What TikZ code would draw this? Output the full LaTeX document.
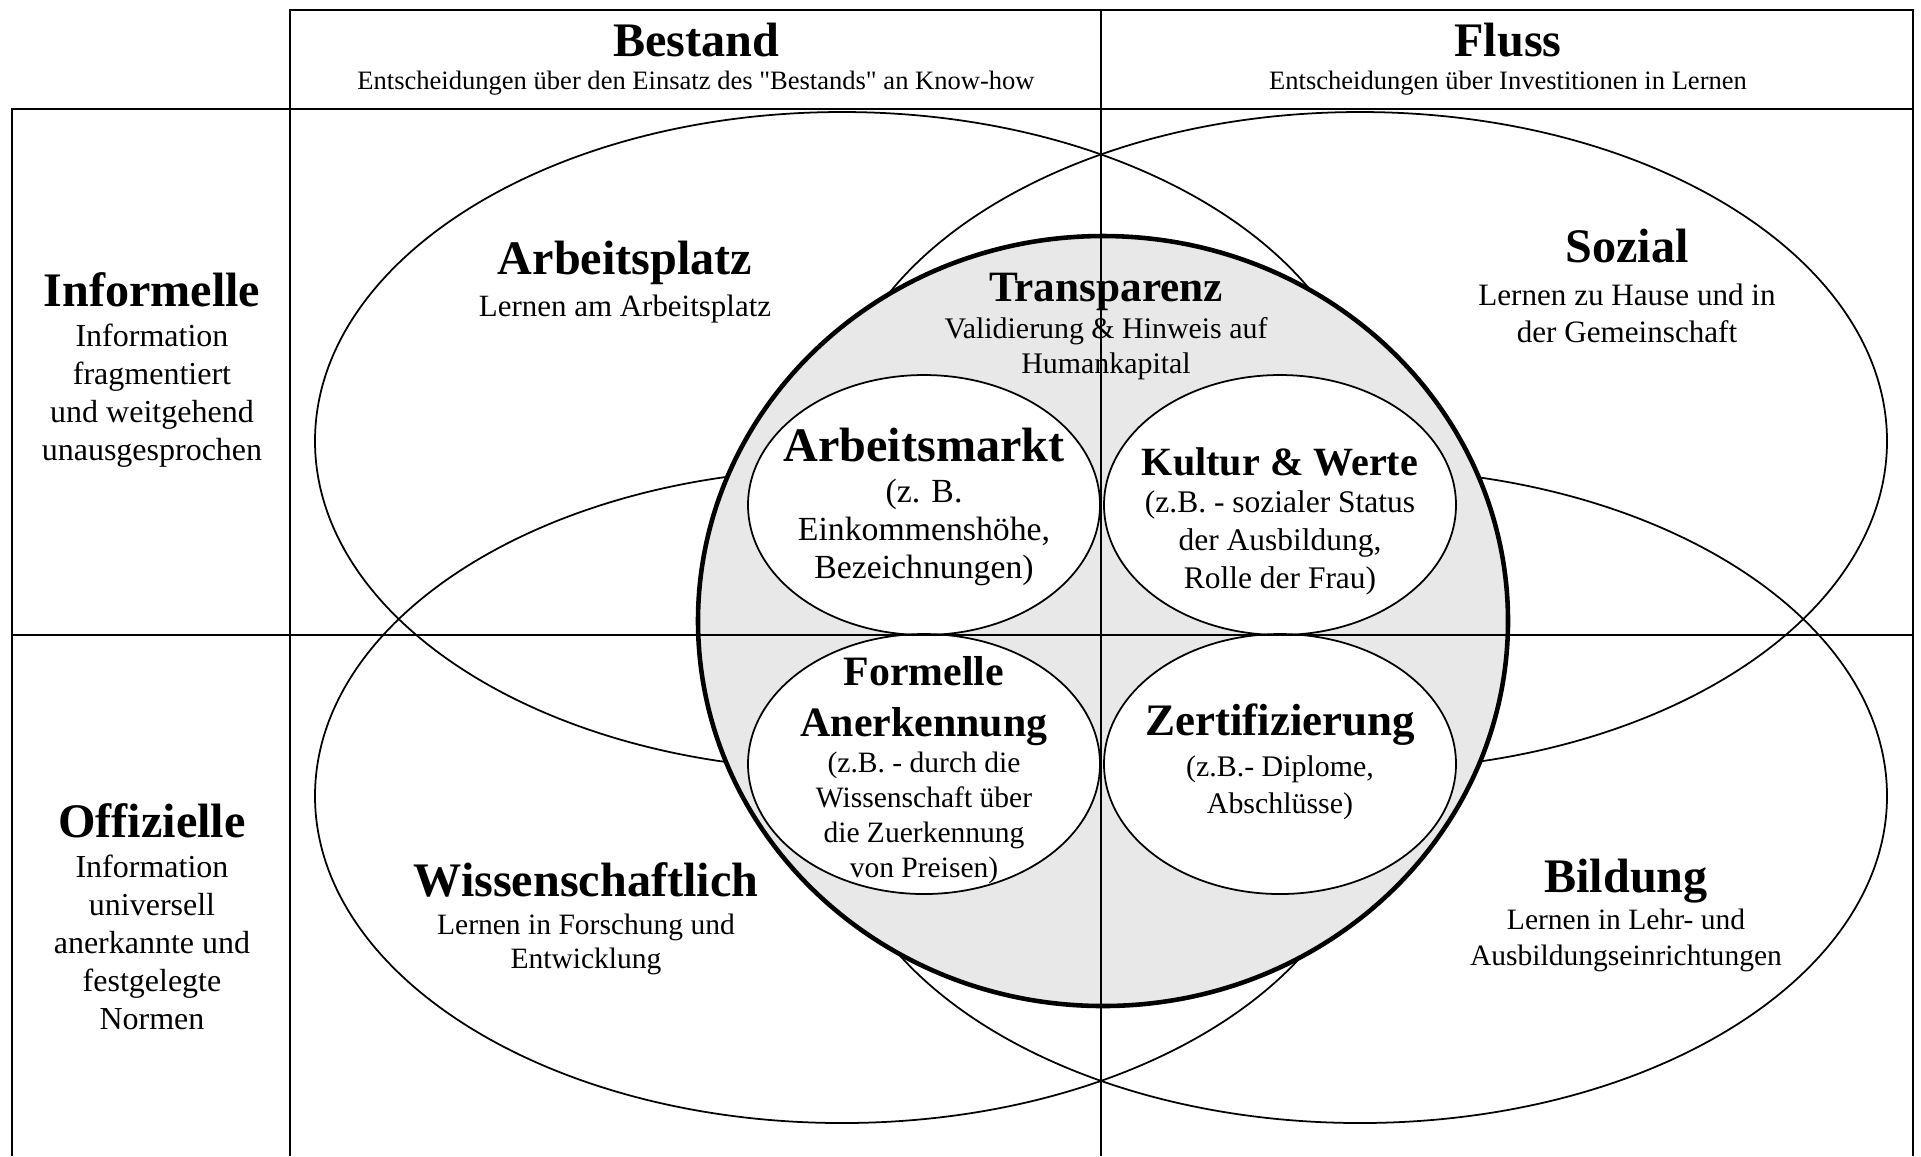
\documentclass[tikz,border=0pt]{standalone}
\usepackage{fontspec}
\setmainfont{Liberation Serif}[Ligatures=TeXOff]
\definecolor{kerngrau}{RGB}{232,232,232}
\newcommand\fsz[2]{\fontsize{#1}{#2}\selectfont}

\begin{document}
\begin{tikzpicture}[
  x=0.01cm, y=-0.01cm,
  every node/.style={inner sep=0pt, align=center},
  titel/.style={font=\bfseries\fsz{13.7}{16}},
  kopf/.style={font=\fsz{7.55}{9}},
  erkl/.style={font=\fsz{8.8}{10.8}},
  rahmen/.style={line width=0.75pt},
  gitter/.style={line width=0.5pt},
  feld/.style={line width=0.5pt},
  kern/.style={line width=1.3pt, fill=kerngrau},
  oval/.style={line width=0.5pt, fill=white}
]
\useasboundingbox (0,0) rectangle (1921,1156);

% die vier Lernfelder
\draw[feld] (842,441) ellipse [x radius=527, y radius=329];
\draw[feld] (1360,441) ellipse [x radius=527, y radius=329];
\draw[feld] (842,796) ellipse [x radius=527, y radius=327];
\draw[feld] (1360,796) ellipse [x radius=527, y radius=327];

% Kern mit vier Ovalen
\draw[kern] (1103,621) ellipse [x radius=405, y radius=385];
\draw[oval] (924,505) ellipse [x radius=176, y radius=130];
\draw[oval] (1280,505) ellipse [x radius=176, y radius=130];
\draw[oval] (924,764) ellipse [x radius=176, y radius=130];
\draw[oval] (1280,764) ellipse [x radius=176, y radius=130];

% Raster
\draw[rahmen] (290,1156) |- (1913,10) -- (1913,1156);
\draw[rahmen] (12,1156) |- (1913,109);
\draw[rahmen] (12,635) -- (290,635);
\draw[gitter] (290,635) -- (1913,635);
\draw[gitter] (1101,10) -- (1101,1156);

% Kopfzeile
\node[titel] (bestand) at (696,40) {Bestand};
\node[kopf] (bestandtxt) at (696,83) {Entscheidungen über den Einsatz des \symbol{34}Bestands\symbol{34} an Know-how};
\node[titel] (fluss) at (1508,40) {Fluss};
\node[kopf] (flusstxt) at (1508,83) {Entscheidungen über Investitionen in Lernen};

% linke Spalte
\node[titel] (informell) at (152,290) {Informelle};
\node[erkl, font=\fsz{9.1}{10.8}] (informelltxt) at (152,396) {Information\\fragmentiert\\und weitgehend\\unausgesprochen};
\node[titel] (offiziell) at (152,821) {Offizielle};
\node[erkl, font=\fsz{9.1}{10.8}] (offizielltxt) at (152,942) {Information\\universell\\anerkannte und\\festgelegte\\Normen};

% Felder
\node[titel] (platz) at (625,263) {Arbeitsplatz};
\node[erkl] (platztxt) at (625,309) {Lernen am Arbeitsplatz};
\node[titel] (sozial) at (1627,246) {Sozial};
\node[erkl, font=\fsz{8.85}{10.5}] (sozialtxt) at (1627,313) {Lernen zu Hause und in\\der Gemeinschaft};
\node[titel] (wiss) at (586,880) {Wissenschaftlich};
\node[erkl, font=\fsz{8.4}{9.7}] (wisstxt) at (586,944) {Lernen in Forschung und\\Entwicklung};
\node[titel] (bildung) at (1626,881) {Bildung};
\node[erkl, font=\fsz{8.4}{10.2}] (bildungtxt) at (1626,940) {Lernen in Lehr- und\\Ausbildungseinrichtungen};

% Kern
\node[titel, font=\bfseries\fsz{12.3}{14}] (transp) at (1106,292) {Transparenz};
\node[erkl, font=\fsz{8.5}{10}] (transptxt) at (1106,349) {Validierung \& Hinweis auf\\Humankapital};
\node[titel] (markt) at (924,445) {Arbeitsmarkt};
\node[erkl, font=\fsz{9.6}{10.8}] (markttxt) at (924,532) {(z. B.\\Einkommenshöhe,\\Bezeichnungen)};
\node[titel, font=\bfseries\fsz{11.4}{14}] (kultur) at (1280,462) {Kultur \& Werte};
\node[erkl, font=\fsz{8.95}{10.8}] (kulturtxt) at (1280,543) {(z.B. - sozialer Status\\der Ausbildung,\\Rolle der Frau)};
\node[titel, font=\bfseries\fsz{11.9}{14.6}] (anerk) at (924,701) {Formelle\\Anerkennung};
\node[erkl, font=\fsz{8.4}{9.9}] (anerktxt) at (924,818) {(z.B. - durch die\\Wissenschaft über\\die Zuerkennung\\von Preisen)};
\node[titel, font=\bfseries\fsz{12.8}{15}] (zert) at (1280,725) {Zertifizierung};
\node[erkl, font=\fsz{8.5}{10.5}] (zerttxt) at (1280,788) {(z.B.- Diplome,\\Abschlüsse)};
\end{tikzpicture}
\end{document}
